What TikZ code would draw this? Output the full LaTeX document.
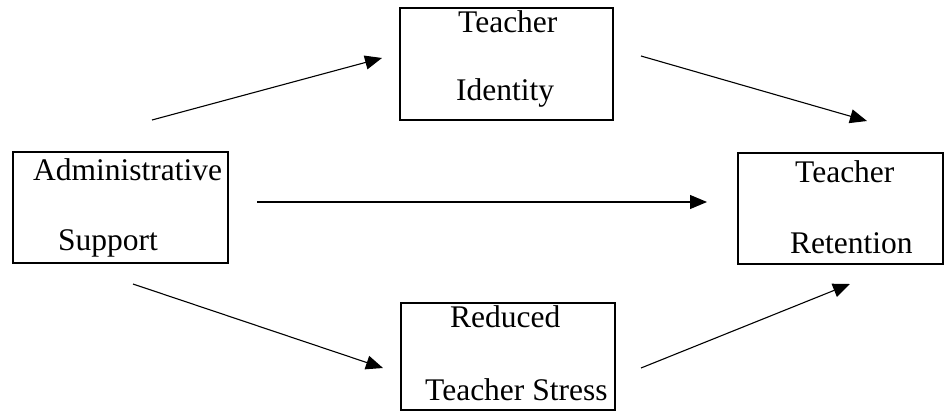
\documentclass[tikz,border=0pt]{standalone}
\usepackage{fontspec}
\setmainfont{Liberation Serif}
\usetikzlibrary{arrows.meta}
\begin{document}
\begin{tikzpicture}[x=1pt,y=-1pt,
  box/.style={draw=black, line width=2pt, inner sep=0pt, outer sep=0pt, fill=none},
  lbl/.style={anchor=base west, inner sep=0pt, font=\fontsize{31.5}{36}\selectfont},
  conn/.style={line width=1.1pt, -{Triangle[length=17pt,width=14pt]}}]
\useasboundingbox (0,0) rectangle (945,412);
% boxes
\node[box, minimum width=213pt, minimum height=112pt] (ti) at (506.5,64) {};
\node[box, minimum width=215pt, minimum height=111pt] (as) at (120.5,207.5) {};
\node[box, minimum width=205pt, minimum height=111pt] (tr) at (840.5,208.5) {};
\node[box, minimum width=214pt, minimum height=107pt] (rs) at (508,356.5) {};
% labels
\node[lbl] (ti1) at (458,33) {Teacher};
\node[lbl] (ti2) at (456,100) {Identity};
\node[lbl] (as1) at (33,180) {Administrative};
\node[lbl] (as2) at (58,250) {Support};
\node[lbl] (tr1) at (795,182) {Teacher};
\node[lbl] (tr2) at (790,253) {Retention};
\node[lbl] (rs1) at (450,327) {Reduced};
\node[lbl] (rs2) at (425,400) {Teacher Stress};
% arrow endpoints
\coordinate (a1s) at (152,120); \coordinate (a1e) at (382,58);
\coordinate (a2s) at (641,56);  \coordinate (a2e) at (867,121);
\coordinate (a3s) at (257,202); \coordinate (a3e) at (707,202);
\coordinate (a4s) at (133,284); \coordinate (a4e) at (383,368);
\coordinate (a5s) at (641,368); \coordinate (a5e) at (850,284);
\draw[conn] (a1s) -- (a1e);
\draw[conn] (a2s) -- (a2e);
\draw[conn] (a3s) -- (a3e);
\draw[conn] (a4s) -- (a4e);
\draw[conn] (a5s) -- (a5e);
\end{tikzpicture}
\end{document}
